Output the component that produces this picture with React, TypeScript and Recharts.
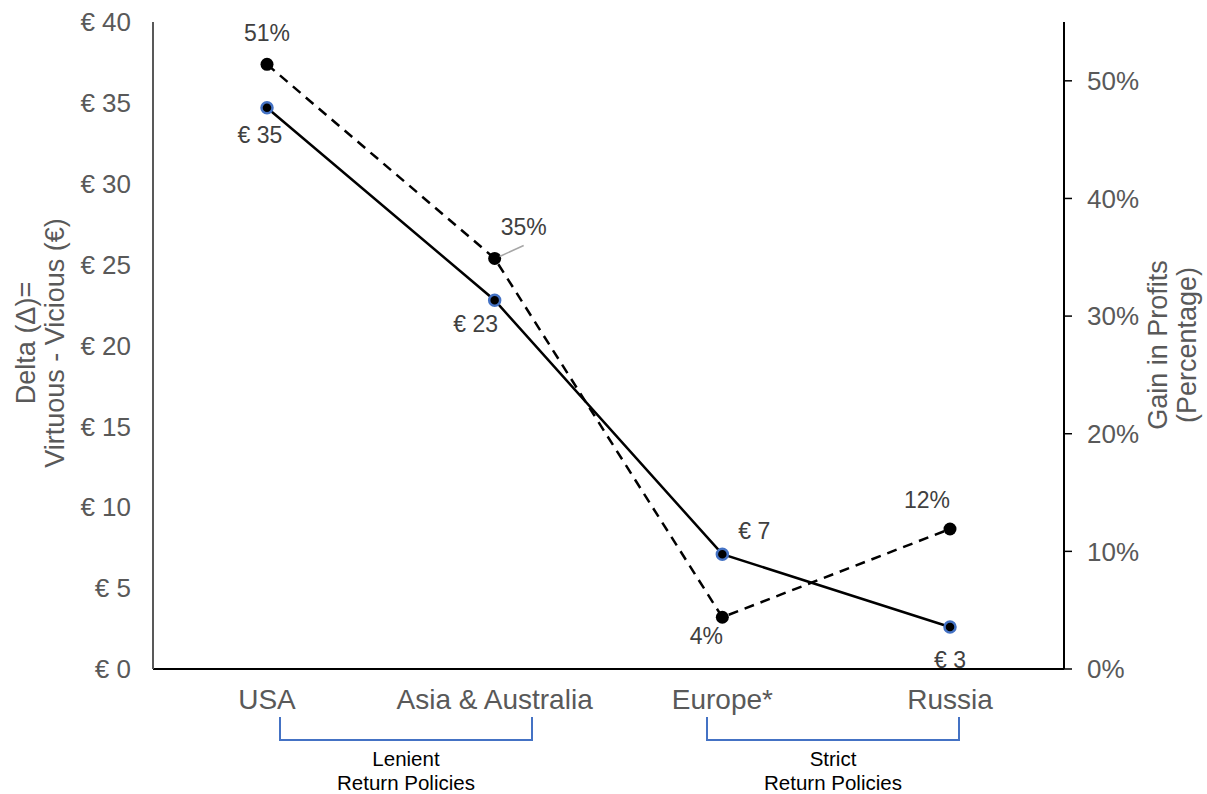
import { LineChart, Line, XAxis, YAxis, LabelList } from 'recharts';

const regions = ['USA', 'Asia & Australia', 'Europe*', 'Russia'];
const deltaEuro = [34.7, 22.8, 7.1, 2.6];
const gainPct = [51.4, 34.9, 4.4, 11.9];
const euroTicks = [0, 5, 10, 15, 20, 25, 30, 35, 40];
const pctTicks = [0, 10, 20, 30, 40, 50];

const data = regions.map((region, i) => ({
  region,
  delta: deltaEuro[i],
  gain: gainPct[i],
}));

const FONT = '"Liberation Sans", Arial, sans-serif';
const GREY = '#595959';
const LABEL = '#404040';
const BLUE = '#4472C4';

// label offsets (dx, dy from the point) per region
const deltaOffsets = [
  [-7, 27],
  [-19, 24],
  [32, -23],
  [0, 33],
];
const gainOffsets = [
  [0, -32],
  [29, -32],
  [-16, 18],
  [-23, -29],
];

const makeLabel =
  (offsets: number[][], fmt: (v: number) => string, leader?: number) =>
  (props: any) => {
    const { x, y, value, index } = props;
    const [dx, dy] = offsets[index] || [0, 0];
    return (
      <g>
        {leader === index && (
          <line x1={x + 5} y1={y - 2} x2={x + 29} y2={y - 13} stroke="#A6A6A6" strokeWidth={1.5} />
        )}
        <text
          x={x + dx}
          y={y + dy}
          dy="0.36em"
          textAnchor="middle"
          fill={LABEL}
          fontSize={23}
          fontFamily={FONT}
        >
          {fmt(value)}
        </text>
      </g>
    );
  };

const EuroDot = (props: any) => (
  <circle cx={props.cx} cy={props.cy} r={5.5} fill="#000" stroke={BLUE} strokeWidth={2.5} />
);
const GainDot = (props: any) => <circle cx={props.cx} cy={props.cy} r={6.5} fill="#000" />;

const Bracket = ({ x1, x2, lines }: { x1: number; x2: number; lines: string[] }) => (
  <g>
    <path d={`M${x1},717 V740 H${x2} V717`} fill="none" stroke={BLUE} strokeWidth={2} />
    {lines.map((t, i) => (
      <text
        key={t}
        x={(x1 + x2) / 2}
        y={766 + i * 24}
        textAnchor="middle"
        fontSize={20.5}
        fontFamily={FONT}
        fill="#000"
      >
        {t}
      </text>
    ))}
  </g>
);

export default function App() {
  return (
    <div style={{ position: 'absolute', left: 0, top: 0, width: 1207, height: 794, background: '#fff' }}>
      <LineChart width={1207} height={794} data={data} margin={{ top: 22, right: 0, bottom: 0, left: 0 }}>
        <XAxis
          dataKey="region"
          height={125}
          padding={{ left: 114, right: 114 }}
          axisLine={{ stroke: '#000', strokeWidth: 2 }}
          tickLine={false}
          tickSize={0}
          tickMargin={20}
          tick={{ fill: GREY, fontSize: 28, fontFamily: FONT }}
        />
        <YAxis
          yAxisId="euro"
          width={153}
          domain={[0, 40]}
          ticks={euroTicks}
          tickFormatter={(v) => `€ ${v}`}
          axisLine={{ stroke: GREY, strokeWidth: 2 }}
          tickLine={false}
          tickSize={0}
          tickMargin={22}
          tick={{ fill: GREY, fontSize: 26, fontFamily: FONT }}
        />
        <YAxis
          yAxisId="pct"
          orientation="right"
          width={143}
          domain={[0, 55]}
          ticks={pctTicks}
          tickFormatter={(v) => `${v}%`}
          axisLine={{ stroke: '#000', strokeWidth: 2 }}
          tickLine={{ stroke: '#000', strokeWidth: 1.5 }}
          tickSize={8}
          tickMargin={15}
          tick={{ fill: GREY, fontSize: 26, fontFamily: FONT }}
        />
        <Line
          yAxisId="pct"
          dataKey="gain"
          stroke="#000"
          strokeWidth={2.5}
          strokeDasharray="10 7"
          dot={<GainDot />}
          activeDot={false}
          isAnimationActive={false}
        >
          <LabelList dataKey="gain" content={makeLabel(gainOffsets, (v) => `${Math.round(v)}%`, 1)} />
        </Line>
        <Line
          yAxisId="euro"
          dataKey="delta"
          stroke="#000"
          strokeWidth={2.5}
          dot={<EuroDot />}
          activeDot={false}
          isAnimationActive={false}
        >
          <LabelList dataKey="delta" content={makeLabel(deltaOffsets, (v) => `€ ${Math.round(v)}`)} />
        </Line>
      </LineChart>
      <svg width={1207} height={794} style={{ position: 'absolute', left: 0, top: 0, pointerEvents: 'none' }}>
        <text transform="translate(38,343) rotate(-90)" textAnchor="middle" fontSize={27} fontFamily={FONT} fill={GREY}>
          <tspan x={0} dy={-3}>Delta (Δ)=</tspan>
          <tspan x={0} dy={29}>Virtuous - Vicious (€)</tspan>
        </text>
        <text transform="translate(1167,345) rotate(-90)" textAnchor="middle" fontSize={27} fontFamily={FONT} fill={GREY}>
          <tspan x={0} dy={0}>Gain in Profits</tspan>
          <tspan x={0} dy={29}>(Percentage)</tspan>
        </text>
        <Bracket x1={280} x2={532} lines={['Lenient', 'Return Policies']} />
        <Bracket x1={707} x2={959} lines={['Strict', 'Return Policies']} />
      </svg>
    </div>
  );
}
